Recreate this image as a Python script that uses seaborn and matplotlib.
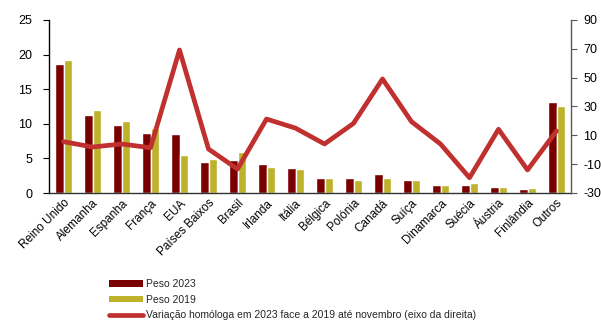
import matplotlib
matplotlib.use("Agg")
import matplotlib.pyplot as plt
import seaborn as sns
import pandas as pd
import numpy as np
from matplotlib.patches import Patch
from matplotlib.lines import Line2D

paises = ["Reino Unido", "Alemanha", "Espanha", "França", "EUA", "Países Baixos",
          "Brasil", "Irlanda", "Itália", "Bélgica", "Polónia", "Canadá", "Suíça",
          "Dinamarca", "Suécia", "Áustria", "Finlândia", "Outros"]
peso_2023 = [18.6, 11.3, 9.8, 8.7, 8.5, 4.5, 4.7, 4.2, 3.6, 2.1, 2.1, 2.8, 1.9,
             1.15, 1.15, 0.9, 0.58, 13.2]
peso_2019 = [19.2, 12.05, 10.4, 9.45, 5.5, 4.9, 5.9, 3.8, 3.4, 2.1, 1.9, 2.1, 1.9,
             1.15, 1.5, 0.9, 0.75, 12.6]
variacao = [5.6, 1.9, 4.0, 1.4, 69.2, 0.5, -13.4, 21.3, 15.0, 4.0, 18.3, 49.1,
            19.5, 4.0, -19.4, 14.2, -14.0, 13.0]

lbl_2023 = "Peso 2023"
lbl_2019 = "Peso 2019"
lbl_var = "Variação homóloga em 2023 face a 2019 até novembro (eixo da direita)"

c_2023 = "#7a0000"
c_2019 = "#bdb22a"
c_var = "#c0302e"

sns.set_theme(style="white")
plt.rcParams["font.family"] = ["Liberation Sans", "DejaVu Sans"]
plt.rcParams["axes.unicode_minus"] = False

df = pd.DataFrame({
    "pais": paises * 2,
    "peso": peso_2023 + peso_2019,
    "serie": [lbl_2023] * len(paises) + [lbl_2019] * len(paises),
})

fig = plt.figure(figsize=(6.01, 3.20), dpi=100)
ax = fig.add_axes([49 / 601, 1 - 193 / 320, 522 / 601, 173 / 320])

sns.barplot(data=df, x="pais", y="peso", hue="serie", order=paises,
            hue_order=[lbl_2023, lbl_2019], palette=[c_2023, c_2019],
            width=0.56, gap=0.0, saturation=1, legend=False, ax=ax)
ax.set_ylim(0, 25)
ax.set_yticks(np.arange(0, 26, 5))
ax.set_xlim(-0.5, len(paises) - 0.5)
ax.set_xlabel("")
ax.set_ylabel("")

ax2 = ax.twinx()
sns.pointplot(x=paises, y=variacao, order=paises, color=c_var, markers="",
              linestyles="-", linewidth=3.4, ax=ax2)
ax2.set_ylim(-30, 90)
ax2.set_yticks(np.arange(-30, 91, 20))
ax2.set_xlim(-0.5, len(paises) - 0.5)
ax2.set_ylabel("")

for a in (ax, ax2):
    for s in a.spines.values():
        s.set_visible(False)
    a.grid(False)
    a.set_facecolor("none")

ax.spines["left"].set_visible(True)
ax.spines["left"].set_color("#000000")
ax.spines["left"].set_linewidth(1.0)
ax.spines["bottom"].set_visible(True)
ax.spines["bottom"].set_color("#333333")
ax.spines["bottom"].set_linewidth(1.0)
ax2.spines["right"].set_visible(True)
ax2.spines["right"].set_color("#595959")
ax2.spines["right"].set_linewidth(1.0)

ax.tick_params(axis="y", direction="out", length=4, width=0.8, color="#000000",
               labelsize=9, pad=8, left=True, labelcolor="#000000")
ax.tick_params(axis="x", length=0, labelsize=8.5, pad=3, labelcolor="#000000")
ax2.tick_params(axis="y", direction="out", length=4, width=0.8, color="#595959",
                labelsize=9, pad=5, right=True, labelcolor="#000000")
plt.setp(ax.get_xticklabels(), rotation=45, ha="right", rotation_mode="anchor")

handles = [
    Patch(facecolor=c_2023, edgecolor="none"),
    Patch(facecolor=c_2019, edgecolor="none"),
    Line2D([0], [0], color=c_var, linewidth=3.4),
]
fig.legend(handles, [lbl_2023, lbl_2019, lbl_var], loc="upper left",
           bbox_to_anchor=(109 / 601, 1 - 279 / 320), frameon=False,
           fontsize=7.5, handlelength=3.3, handleheight=0.6, handletextpad=0.3,
           labelspacing=0.55, borderaxespad=0, borderpad=0)

fig.savefig("out.png", dpi=100)
